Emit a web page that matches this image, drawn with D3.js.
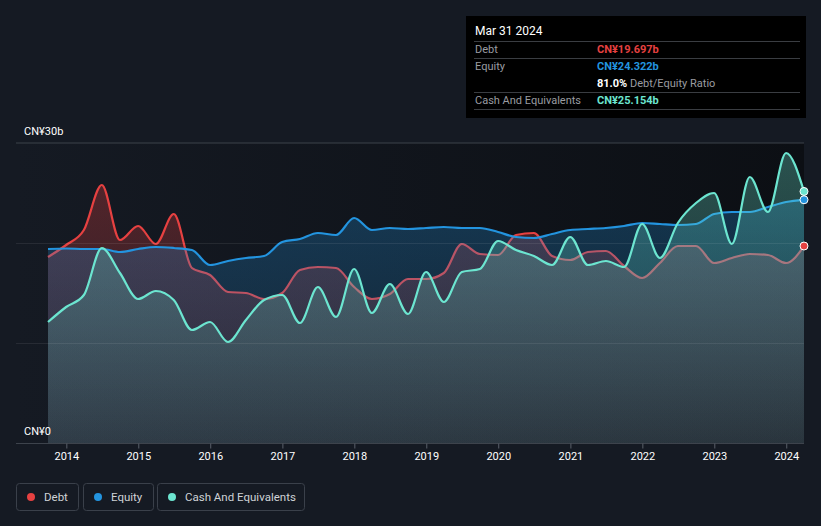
<!DOCTYPE html>
<html><head><meta charset="utf-8">
<script src="https://cdn.jsdelivr.net/npm/d3@7"></script>
<style>
html,body{margin:0;padding:0;background:#151a23;}
svg{display:block;font-family:Roboto,"Noto Sans",sans-serif;}
</style></head>
<body>
<svg id="chart" width="821" height="526"></svg>
<script>
const dates = ["2013-09-30","2013-12-31","2014-03-31","2014-06-30","2014-09-30","2014-12-31","2015-03-31","2015-06-30","2015-09-30","2015-12-31",
"2016-03-31","2016-06-30","2016-09-30","2016-12-31","2017-03-31","2017-06-30","2017-09-30","2017-12-31",
"2018-03-31","2018-06-30","2018-09-30","2018-12-31","2019-03-31","2019-06-30","2019-09-30","2019-12-31",
"2020-03-31","2020-06-30","2020-09-30","2020-12-31","2021-03-31","2021-06-30","2021-09-30","2021-12-31",
"2022-03-31","2022-06-30","2022-09-30","2022-12-31","2023-03-31","2023-06-30","2023-09-30","2023-12-31","2024-03-31"];
const debt = [18.6,19.8,21.3,25.8,20.3,21.7,19.9,22.9,17.5,16.8,15.1,15.0,14.4,15.0,17.3,17.6,17.5,15.6,
14.4,14.9,16.4,16.4,17.0,19.9,18.9,18.8,20.8,21.0,18.7,18.3,19.1,19.2,17.7,16.5,18.0,19.7,19.7,18.0,18.5,18.9,18.8,18.0,19.697];
const equity = [19.4,19.45,19.4,19.4,19.1,19.4,19.6,19.5,19.3,17.8,18.2,18.5,18.7,20.1,20.4,21.0,20.8,22.5,
21.3,21.5,21.4,21.5,21.6,21.5,21.5,21.1,20.6,20.5,20.9,21.3,21.4,21.5,21.7,22.0,21.9,21.8,21.9,22.9,23.1,23.1,23.6,24.1,24.322];
const cash = [12.1,13.6,14.8,19.5,17.0,14.4,15.2,14.3,11.3,12.1,10.1,12.3,14.3,14.8,12.0,15.6,12.6,17.4,
13.0,15.9,12.9,17.1,14.1,17.1,17.4,20.2,19.3,18.7,17.8,20.6,17.8,18.2,17.6,21.9,18.5,22.0,24.0,25.0,19.9,26.6,23.1,29.0,25.154];
const yearTicks = [2014,2015,2016,2017,2018,2019,2020,2021,2022,2023,2024];
const yTicks = [0,10,20,30];
const yLabels = [{v:0,t:"CN¥0"},{v:30,t:"CN¥30b"}];
const seriesNames = ["Debt","Equity","Cash And Equivalents"];
const seriesColors = ["#e64141","#2394df","#6ce5d0"];
const tipTitle = "Mar 31 2024";
const tipRows = [
 {label:"Debt", value:"CN¥19.697b", color:"#e64141"},
 {label:"Equity", value:"CN¥24.322b", color:"#2394df"},
 {label:"", value:"81.0%", extra:" Debt/Equity Ratio", color:"#ffffff"},
 {label:"Cash And Equivalents", value:"CN¥25.154b", color:"#6ce5d0"}
];

const svg = d3.select("#chart");
const parse = d3.timeParse("%Y-%m-%d");
const dd = dates.map(parse);
const x = d3.scaleTime().domain([dd[0], dd[dd.length-1]]).range([48, 804]);
const y = d3.scaleLinear().domain([0,30]).range([443,143]);

const defs = svg.append("defs");
const bgG = defs.append("linearGradient").attr("id","plotbg").attr("x1","0").attr("x2","1").attr("y1","0").attr("y2","0");
bgG.append("stop").attr("offset","0").attr("stop-color","#151a23");
bgG.append("stop").attr("offset","1").attr("stop-color","#0c0f14");

seriesColors.forEach((c,i)=>{
  const g = defs.append("linearGradient").attr("id","ag"+i).attr("gradientUnits","userSpaceOnUse")
    .attr("x1",0).attr("x2",0).attr("y1",y(30)).attr("y2",y(0));
  g.append("stop").attr("offset","0").attr("stop-color",c).attr("stop-opacity",0.32);
  g.append("stop").attr("offset","1").attr("stop-color",c).attr("stop-opacity",0.1);
});

// plot background
svg.append("rect").attr("x",16).attr("y",y(30)).attr("width",804-16).attr("height",y(0)-y(30)).attr("fill","url(#plotbg)");

// top gridline
svg.append("line").attr("x1",16).attr("x2",804).attr("y1",y(30)).attr("y2",y(30)).attr("stroke","#3d424b").attr("stroke-width",1);

const data = [debt, equity, cash];
const curve = d3.curveMonotoneX;
data.forEach((vals,i)=>{
  const area = d3.area().x((d,j)=>x(dd[j])).y0(y(0)).y1(d=>y(d)).curve(curve);
  const line = d3.line().x((d,j)=>x(dd[j])).y(d=>y(d)).curve(curve);
  svg.append("path").datum(vals).attr("d",area).attr("fill","url(#ag"+i+")");
  svg.append("path").datum(vals).attr("d",line).attr("fill","none").attr("stroke",seriesColors[i]).attr("stroke-width",2.2);
});

// inner gridlines over areas
yTicks.filter(v=>v>0 && v<30).forEach(v=>{
  svg.append("line").attr("x1",16).attr("x2",804).attr("y1",y(v)+0.5).attr("y2",y(v)+0.5).attr("stroke","#ffffff").attr("stroke-opacity",0.08);
});
// bottom axis line
svg.append("line").attr("x1",16).attr("x2",804).attr("y1",y(0)+0.5).attr("y2",y(0)+0.5).attr("stroke","#3d434c").attr("stroke-width",1);

// y labels
yLabels.forEach(l=>{
  svg.append("text").attr("x",24).attr("y",y(l.v)-8).attr("fill","#ffffff").attr("font-size",11).text(l.t);
});

// x axis
const xa = svg.append("g").attr("transform","translate(0,"+(y(0)+0.5)+")")
  .call(d3.axisBottom(x).tickValues(yearTicks.map(yr=>new Date(yr,0,1))).tickFormat(d3.timeFormat("%Y")).tickSize(5).tickPadding(4));
xa.select(".domain").remove();
xa.selectAll(".tick line").attr("stroke","#5a606a");
xa.selectAll(".tick text").attr("fill","#ffffff").attr("font-size",11).attr("font-family","Roboto,sans-serif");

// end markers
data.forEach((vals,i)=>{
  svg.append("circle").attr("cx",x(dd[dd.length-1])).attr("cy",y(vals[vals.length-1])).attr("r",4)
    .attr("fill",seriesColors[i]).attr("stroke","#ffffff").attr("stroke-width",1);
});

// tooltip
const tip = svg.append("g");
tip.append("rect").attr("x",466).attr("y",16).attr("width",340).attr("height",102).attr("fill","#000000");
tip.append("text").attr("x",475).attr("y",35).attr("fill","#ffffff").attr("font-size",12).text(tipTitle);
const rowY = [49,66,83,100];
const sepY = [41.5,58.5,92.5,109.5];
sepY.forEach(s=>tip.append("line").attr("x1",474).attr("x2",800).attr("y1",s).attr("y2",s).attr("stroke","#3a3d42").attr("stroke-width",1));
tipRows.forEach((r,i)=>{
  if(r.label) tip.append("text").attr("x",475).attr("y",rowY[i]+4).attr("fill","#9a9ca0").attr("font-size",11).text(r.label);
  const t = tip.append("text").attr("x",597).attr("y",rowY[i]+4).attr("font-size",11);
  t.append("tspan").attr("fill",r.color).attr("font-weight","bold").text(r.value);
  if(r.extra) t.append("tspan").attr("fill","#9a9ca0").text(r.extra);
});

// legend
const legendBoxes = [{x:16,w:62},{x:83,w:70},{x:157,w:147}];
seriesNames.forEach((n,i)=>{
  const b = legendBoxes[i];
  const g = svg.append("g");
  g.append("rect").attr("x",b.x+0.5).attr("y",483.5).attr("width",b.w).attr("height",27).attr("rx",3)
    .attr("fill","none").attr("stroke","#3a404a");
  g.append("circle").attr("cx",b.x+15).attr("cy",497).attr("r",4).attr("fill",seriesColors[i]);
  g.append("text").attr("x",b.x+28).attr("y",501).attr("fill","#cfd2d6").attr("font-size",11.5).text(n);
});
</script>
</body></html>
